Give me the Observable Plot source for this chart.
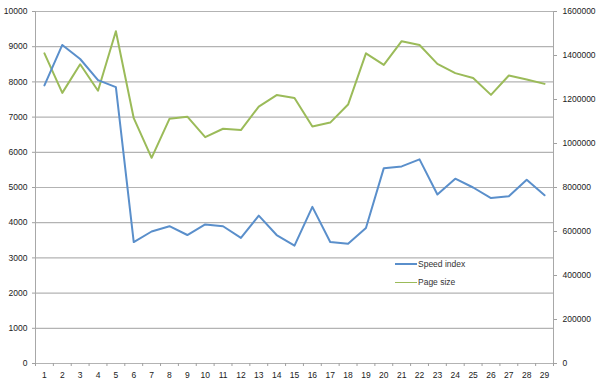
<!DOCTYPE html>
<html>
<head>
<meta charset="utf-8">
<script src="https://cdn.jsdelivr.net/npm/d3@7"></script>
<script src="https://cdn.jsdelivr.net/npm/@observablehq/plot@0.6"></script>
<style>
  html, body { margin: 0; padding: 0; background: #fff; }
  #wrap { position: relative; width: 600px; height: 384px; font-family: "Liberation Sans", Arial, sans-serif; }
  .leg { position: absolute; left: 395px; font-size: 8.5px; color: #333; display: flex; align-items: center; }
  .leg span.sw { display: inline-block; width: 22px; margin-right: 1px; }
</style>
</head>
<body>
<div id="wrap"></div>
<script>
const days = [1,2,3,4,5,6,7,8,9,10,11,12,13,14,15,16,17,18,19,20,21,22,23,24,25,26,27,28,29];
const speedIndex = [7900,9050,8650,8050,7850,3450,3750,3900,3650,3950,3900,3570,4200,3650,3350,4450,3450,3400,3850,5550,5600,5800,4800,5250,5000,4700,4750,5220,4780];
const pageSize = [1410000,1230000,1360000,1240000,1510000,1115000,935000,1112000,1122000,1029000,1067000,1061000,1168000,1220000,1207000,1077000,1095000,1177000,1410000,1357000,1465000,1448000,1362000,1320000,1298000,1221000,1309000,1291000,1271000];
const leftTicks = [0,1000,2000,3000,4000,5000,6000,7000,8000,9000,10000];
const rightTicks = [0,200000,400000,600000,800000,1000000,1200000,1400000,1600000];
const seriesNames = ["Speed index", "Page size"];
const colors = ["#5A8FCB", "#9BBB59"];

const leftMax = 10000, rightMax = 1600000;
const ratio = rightMax / leftMax;

const speedData = days.map((d, i) => ({day: d, v: speedIndex[i]}));
const pageData = days.map((d, i) => ({day: d, v: pageSize[i] / ratio}));
const boundaries = [...days.map(d => d - 0.5), days[days.length - 1] + 0.5];

const chart = Plot.plot({
  width: 600,
  height: 384,
  marginLeft: 35,
  marginRight: 47,
  marginTop: 11,
  marginBottom: 21,
  style: {fontFamily: "'Liberation Sans', Arial, sans-serif", fontSize: "8.5px", background: "#fff"},
  x: {domain: [days[0] - 0.5, days[days.length - 1] + 0.5]},
  y: {domain: [0, leftMax]},
  marks: [
    Plot.ruleY(leftTicks, {stroke: "#b3b3b3", strokeWidth: 1.2}),
    Plot.ruleX([boundaries[0]], {stroke: "#a8a8a8"}),
    Plot.ruleX([boundaries[boundaries.length - 1]], {stroke: "#a8a8a8"}),
    Plot.axisX(boundaries, {tickSize: 3, tickFormat: () => "", stroke: "#a0a0a0", label: null}),
    Plot.axisX(days, {tickSize: 0, tickPadding: 8, fill: "#222", label: null}),
    Plot.axisY(leftTicks, {anchor: "left", tickSize: 3, tickPadding: 5, stroke: "#a0a0a0", fill: "#222", label: null, tickFormat: d => String(d)}),
    Plot.axisY(rightTicks.map(v => v / ratio), {anchor: "right", tickSize: 3, tickPadding: 6, stroke: "#a0a0a0", fill: "#222", label: null, tickFormat: d => String(Math.round(d * ratio))}),
    Plot.line(pageData, {x: "day", y: "v", stroke: colors[1], strokeWidth: 2}),
    Plot.line(speedData, {x: "day", y: "v", stroke: colors[0], strokeWidth: 2})
  ]
});
const wrap = document.getElementById("wrap");
wrap.appendChild(chart);

seriesNames.forEach((name, i) => {
  const row = document.createElement("div");
  row.className = "leg";
  row.style.top = (259 + i * 18) + "px";
  const sw = document.createElement("span");
  sw.className = "sw";
  sw.style.borderTop = (i === 0 ? 2 : 1.5) + "px solid " + colors[i];
  row.appendChild(sw);
  row.appendChild(document.createTextNode(name));
  wrap.appendChild(row);
});
</script>
</body>
</html>
